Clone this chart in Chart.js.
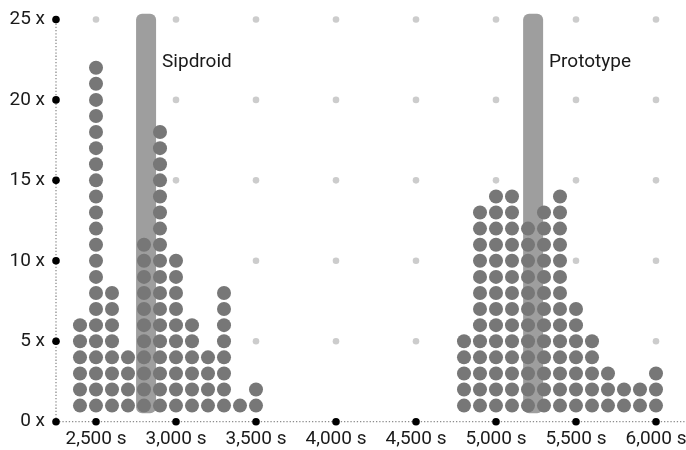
<!DOCTYPE html>
<html>
<head>
<meta charset="utf-8">
<script src="https://cdn.jsdelivr.net/npm/chart.js@4/dist/chart.umd.min.js"></script>
<style>
  html, body { margin: 0; padding: 0; background: #fff; }
  canvas { display: block; }
</style>
</head>
<body>
<canvas id="chart" width="686" height="450"></canvas>
<script>
// histogram bins (s) and number of runs per bin
const sipdroidBins = [2400, 2500, 2600, 2700, 2800, 2900, 3000, 3100, 3200, 3300, 3400, 3500];
const sipdroidCounts = [6, 22, 8, 4, 11, 18, 10, 6, 4, 8, 1, 2];
const prototypeBins = [4800, 4900, 5000, 5100, 5200, 5300, 5400, 5500, 5600, 5700, 5800, 5900, 6000];
const prototypeCounts = [5, 13, 14, 14, 12, 13, 14, 7, 5, 3, 2, 2, 3];

// median markers
const medianLabels = ['Sipdroid', 'Prototype'];
const medianValues = [2813, 5232];

const xTicks = [2500, 3000, 3500, 4000, 4500, 5000, 5500, 6000];
const yTicks = [0, 5, 10, 15, 20, 25];

const FONT = { family: 'Roboto', size: 19 };
const TEXT = '#1a1a1a';

function stack(bins, counts) {
    const pts = [];
    bins.forEach((b, i) => {
        for (let k = 1; k <= counts[i]; k++) pts.push({ x: b, y: k });
    });
    return pts;
}

// keep tick labels from shrinking the plot area
function noPad(s) {
    s.paddingLeft = 0;
    s.paddingRight = 0;
    s.paddingTop = 0;
    s.paddingBottom = 0;
}

const decorations = {
    id: 'decorations',
    beforeDatasetsDraw(chart) {
        const { ctx, scales: { x, y } } = chart;
        ctx.save();
        // grid dots
        ctx.fillStyle = '#cccccc';
        xTicks.forEach(tx => {
            yTicks.slice(1).forEach(ty => {
                ctx.beginPath();
                ctx.arc(x.getPixelForValue(tx), y.getPixelForValue(ty), 3.3, 0, Math.PI * 2);
                ctx.fill();
            });
        });
        // dotted axes
        ctx.strokeStyle = '#8c8c8c';
        ctx.lineWidth = 1.3;
        ctx.setLineDash([1.3, 1.9]);
        const x0 = x.getPixelForValue(x.min);
        const y0 = y.getPixelForValue(0);
        ctx.beginPath();
        ctx.moveTo(x0, y0);
        ctx.lineTo(chart.width, y0);
        ctx.moveTo(x0, y0);
        ctx.lineTo(x0, y.getPixelForValue(25));
        ctx.stroke();
        ctx.setLineDash([]);
        // median bars
        medianValues.forEach((m, i) => {
            const px = x.getPixelForValue(m);
            const top = y.getPixelForValue(25.35);
            const bot = y.getPixelForValue(0.52);
            ctx.fillStyle = '#9e9e9e';
            ctx.beginPath();
            ctx.roundRect(px - 10, top, 20, bot - top, 6);
            ctx.fill();
            ctx.fillStyle = TEXT;
            ctx.font = FONT.size + 'px ' + FONT.family;
            ctx.textBaseline = 'middle';
            ctx.textAlign = 'left';
            ctx.fillText(medianLabels[i], px + 16, y.getPixelForValue(22.35));
        });
        ctx.restore();
    },
    afterDatasetsDraw(chart) {
        const { ctx, scales: { x, y } } = chart;
        ctx.save();
        ctx.fillStyle = '#000';
        const x0 = x.getPixelForValue(x.min);
        const y0 = y.getPixelForValue(0);
        yTicks.forEach(ty => {
            ctx.beginPath();
            ctx.arc(x0, y.getPixelForValue(ty), 3.8, 0, Math.PI * 2);
            ctx.fill();
        });
        xTicks.forEach(tx => {
            ctx.beginPath();
            ctx.arc(x.getPixelForValue(tx), y0, 3.8, 0, Math.PI * 2);
            ctx.fill();
        });
        ctx.restore();
    }
};

new Chart(document.getElementById('chart'), {
    type: 'scatter',
    data: {
        datasets: [{
            label: 'Sipdroid',
            data: stack(sipdroidBins, sipdroidCounts),
            backgroundColor: '#777777',
            borderWidth: 0,
            pointRadius: 7
        }, {
            label: 'Prototype',
            data: stack(prototypeBins, prototypeCounts),
            backgroundColor: '#777777',
            borderWidth: 0,
            pointRadius: 7
        }]
    },
    options: {
        responsive: false,
        animation: false,
        events: [],
        layout: { autoPadding: false, padding: { top: 13, right: 0, left: 0, bottom: 0 } },
        plugins: { legend: { display: false }, tooltip: { enabled: false } },
        scales: {
            x: {
                type: 'linear',
                min: 2250,
                max: 6187.5,
                afterBuildTicks: s => { s.ticks = xTicks.map(v => ({ value: v })); },
                afterFit: s => { s.height = 28.3; noPad(s); },
                grid: { display: false, drawTicks: false },
                border: { display: false },
                ticks: {
                    callback: v => v.toLocaleString('en-US') + ' s',
                    font: FONT, color: TEXT, padding: 6,
                    maxRotation: 0, autoSkip: false
                }
            },
            y: {
                min: 0,
                max: 25.4,
                afterBuildTicks: s => { s.ticks = yTicks.map(v => ({ value: v })); },
                afterFit: s => { s.width = 56; noPad(s); },
                grid: { display: false, drawTicks: false },
                border: { display: false },
                ticks: {
                    callback: v => v + ' x',
                    font: FONT, color: TEXT, padding: 11
                }
            }
        }
    },
    plugins: [decorations]
});
</script>
</body>
</html>
